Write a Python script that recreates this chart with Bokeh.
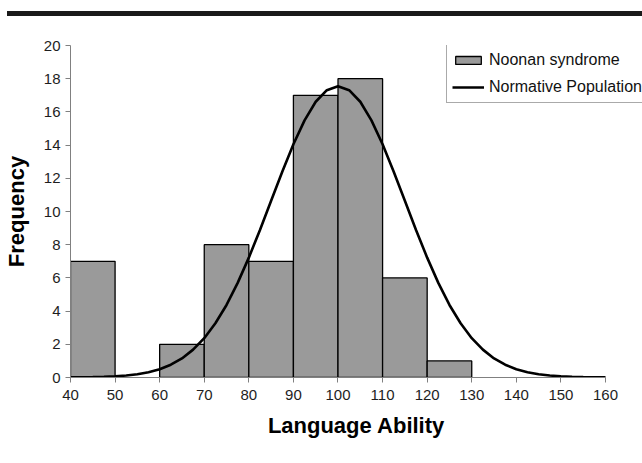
import math
from bokeh.plotting import figure
from bokeh.models import Range1d, Div, Legend, LegendItem, FixedTicker
from bokeh.layouts import column
from bokeh.embed import file_html
from bokeh.resources import INLINE

# Histogram: Noonan syndrome
bin_lo = [40, 60, 70, 80, 90, 100, 110, 120]
bin_hi = [50, 70, 80, 90, 100, 110, 120, 130]
counts = [7, 2, 8, 7, 17, 18, 6, 1]

# Normative population curve
curve_x = [40, 42.5, 45, 47.5, 50, 52.5, 55, 57.5, 60, 62.5, 65, 67.5, 70, 72.5, 75, 77.5,
           80, 82.5, 85, 87.5, 90, 92.5, 95, 97.5, 100, 102.5, 105, 107.5, 110, 112.5, 115,
           117.5, 120, 122.5, 125, 127.5, 130, 132.5, 135, 137.5, 140, 142.5, 145, 147.5,
           150, 152.5, 155, 157.5, 160]
curve_y = [0.006, 0.011, 0.021, 0.038, 0.068, 0.117, 0.195, 0.32, 0.50, 0.77, 1.15, 1.68,
           2.37, 3.27, 4.37, 5.70, 7.22, 8.89, 10.65, 12.40, 14.05, 15.49, 16.61, 17.31,
           17.55, 17.31, 16.61, 15.49, 14.05, 12.40, 10.65, 8.89, 7.22, 5.70, 4.37, 3.27,
           2.37, 1.68, 1.15, 0.77, 0.50, 0.32, 0.195, 0.117, 0.068, 0.038, 0.021, 0.011, 0.006]

x_ticks = [40, 50, 60, 70, 80, 90, 100, 110, 120, 130, 140, 150, 160]
y_ticks = [0, 2, 4, 6, 8, 10, 12, 14, 16, 18, 20]

FONT = "Liberation Sans"

p = figure(width=642, height=440, output_backend="svg", toolbar_location=None,
           x_range=Range1d(40, 168.3), y_range=Range1d(0, 20),
           min_border_left=67, min_border_right=0, min_border_top=29, min_border_bottom=79)
p.outline_line_color = None
p.xgrid.grid_line_color = None
p.ygrid.grid_line_color = None
p.background_fill_color = "white"

bars = p.quad(left=bin_lo, right=bin_hi, top=counts, bottom=0,
              fill_color="#9a9a9a", line_color="black", line_width=1.3)
curve = p.line(curve_x, curve_y, line_color="black", line_width=2.6)

for ax, ticks in ((p.xaxis, x_ticks), (p.yaxis, y_ticks)):
    ax.ticker = FixedTicker(ticks=ticks)
    ax.minor_tick_line_color = None
    ax.major_tick_in = 0
    ax.major_tick_out = 5
    ax.axis_line_color = "#808080"
    ax.major_tick_line_color = "#808080"
    ax.major_label_text_font = FONT
    ax.major_label_text_font_size = "15px"
    ax.major_label_text_color = "#1e1e1e"
    ax.axis_label_text_font = FONT
    ax.axis_label_text_font_size = "22px"
    ax.axis_label_text_font_style = "bold"
    ax.axis_label_text_color = "black"
p.xaxis.bounds = (40, 160)
p.xaxis.major_label_standoff = 7
p.yaxis.major_label_standoff = 5
p.xaxis.axis_label = "Language Ability"
p.yaxis.axis_label = "Frequency"
p.xaxis.axis_label_standoff = 10
p.yaxis.axis_label_standoff = 12

legend = Legend(items=[LegendItem(label="Noonan syndrome", renderers=[bars]),
                       LegendItem(label="Normative Population", renderers=[curve])],
                location=(376, 274), label_text_font=FONT, label_text_font_size="16px",
                label_text_color="#111111", glyph_width=32, glyph_height=10,
                label_height=20, spacing=7, padding=5, label_standoff=5, margin=0,
                border_line_color="#555555", border_line_width=1,
                background_fill_alpha=1.0)
p.add_layout(legend, "center")

bar = Div(text="", width=635, height=5, margin=(11, 0, 0, 7),
          styles={"background-color": "#1a1a1a"})
layout = column(bar, p, spacing=0)

open("out.html", "w").write(file_html(layout, INLINE))
